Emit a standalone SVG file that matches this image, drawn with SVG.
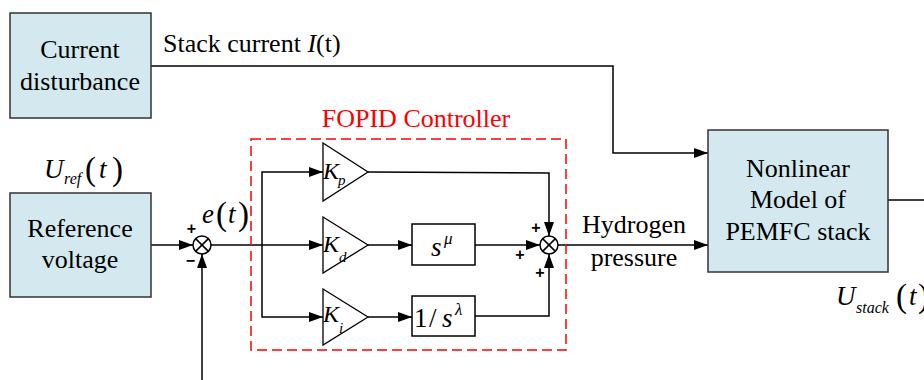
<svg xmlns="http://www.w3.org/2000/svg" width="924" height="380" viewBox="0 0 924 380">
<style>
.box{fill:#d3e9ef;stroke:#333;stroke-width:1.5}
.ln{fill:none;stroke:#000;stroke-width:1.5}
.tx{font-family:"Liberation Serif",serif;font-size:26px;fill:#000}
.it{font-family:"Liberation Serif",serif;font-style:italic;fill:#000}
.rm{font-family:"Liberation Serif",serif;fill:#000}
.sum{fill:#fff;stroke:#000;stroke-width:1.5}
.tri{fill:#fff;stroke:#000;stroke-width:1.3}
.blk{fill:#fff;stroke:#000;stroke-width:1.5}
.pm{font-family:"Liberation Sans",sans-serif;font-size:16px;font-weight:bold;fill:#000;text-anchor:middle}
</style>
<defs>
<marker id="ar" markerWidth="14" markerHeight="10" refX="14" refY="5" orient="auto" markerUnits="userSpaceOnUse">
<path d="M0,0 L14,5 L0,10 Z" fill="#000"/>
</marker>
</defs>
<rect width="924" height="380" fill="#fff"/>

<g id="connectors">
<polyline class="ln" points="151,66 613,66 613,153 708,153" marker-end="url(#ar)"/>
<line class="ln" x1="151" y1="245" x2="193" y2="245" marker-end="url(#ar)"/>
<line class="ln" x1="202" y1="380" x2="202" y2="254" marker-end="url(#ar)"/>
<line class="ln" x1="211" y1="245" x2="323" y2="245" marker-end="url(#ar)"/>
<polyline class="ln" points="262,245 262,172 323,172" marker-end="url(#ar)"/>
<polyline class="ln" points="262,245 262,317 323,317" marker-end="url(#ar)"/>
<line class="ln" x1="368" y1="245" x2="412" y2="245" marker-end="url(#ar)"/>
<line class="ln" x1="368" y1="317" x2="412" y2="317" marker-end="url(#ar)"/>
<polyline class="ln" points="368,172 549,173 549,236" marker-end="url(#ar)"/>
<line class="ln" x1="475" y1="245" x2="540" y2="245" marker-end="url(#ar)"/>
<polyline class="ln" points="475,316 549,316 549,254" marker-end="url(#ar)"/>
<line class="ln" x1="558" y1="245" x2="708" y2="245" marker-end="url(#ar)"/>
<line class="ln" x1="888" y1="200" x2="924" y2="200"/>
</g>

<g id="fopid">
<rect x="251" y="139" width="315" height="211" fill="none" stroke="#f00" stroke-width="1.5" stroke-dasharray="10,5"/>
<text x="416" y="127" text-anchor="middle" font-family="Liberation Serif, serif" font-size="26" fill="#f00">FOPID Controller</text>
</g>

<g id="current-disturbance">
<rect class="box" x="10" y="13" width="141" height="105"/>
<text class="tx" x="80" y="58" text-anchor="middle">Current</text>
<text class="tx" x="80" y="90" text-anchor="middle">disturbance</text>
</g>
<text class="tx" x="163" y="52" font-size="25">Stack current <tspan font-style="italic">I</tspan>(t)</text>

<g id="reference-voltage">
<rect class="box" x="10" y="193" width="141" height="104"/>
<text class="tx" x="80" y="237" text-anchor="middle">Reference</text>
<text class="tx" x="80" y="268" text-anchor="middle">voltage</text>
</g>
<g id="uref-label">
<text class="it" x="44" y="178" font-size="27">U</text>
<text class="it" x="64" y="184" font-size="16">ref</text>
<text class="rm" x="85" y="180" font-size="33">(</text>
<text class="it" x="99" y="178" font-size="27">t</text>
<text class="rm" x="112" y="180" font-size="33">)</text>
</g>

<g id="sum1">
<circle class="sum" cx="202" cy="245" r="9"/>
<path class="ln" d="M195.6,238.6 L208.4,251.4 M208.4,238.6 L195.6,251.4" stroke-width="1.2"/>
<text class="pm" x="191.5" y="234">+</text>
<text class="pm" x="190.5" y="266">−</text>
</g>
<g id="e-label">
<text class="it" x="202" y="223" font-size="27">e</text>
<text class="rm" x="216" y="225" font-size="33">(</text>
<text class="it" x="228" y="223" font-size="27">t</text>
<text class="rm" x="238" y="225" font-size="33">)</text>
</g>

<g id="kp">
<polygon class="tri" points="323,143 368,172 323,201"/>
<text class="it" x="323" y="179" font-size="24">K</text>
<text class="it" x="338" y="185" font-size="15">p</text>
</g>
<g id="kd">
<polygon class="tri" points="323,217 368,245 323,273"/>
<text class="it" x="323" y="252" font-size="24">K</text>
<text class="it" x="339" y="262" font-size="15">d</text>
</g>
<g id="ki">
<polygon class="tri" points="323,289 368,317 323,345"/>
<text class="it" x="323" y="322" font-size="24">K</text>
<text class="it" x="339" y="333" font-size="15">i</text>
</g>

<g id="s-mu">
<rect class="blk" x="412" y="224" width="63" height="41"/>
<text class="it" x="431" y="256" font-size="27">s</text>
<text class="it" x="444" y="244" font-size="17">μ</text>
</g>
<g id="s-lambda">
<rect class="blk" x="412" y="296" width="63" height="40"/>
<text class="rm" x="414" y="327" font-size="27">1</text>
<text class="rm" x="429" y="327" font-size="27">/</text>
<text class="it" x="442" y="327" font-size="27">s</text>
<text class="it" x="455" y="315" font-size="17">λ</text>
</g>

<g id="sum2">
<circle class="sum" cx="549" cy="245" r="9"/>
<path class="ln" d="M542.6,238.6 L555.4,251.4 M555.4,238.6 L542.6,251.4" stroke-width="1.2"/>
<text class="pm" x="536" y="233">+</text>
<text class="pm" x="520" y="260">+</text>
<text class="pm" x="540" y="278">+</text>
</g>

<text class="tx" x="634" y="233" text-anchor="middle">Hydrogen</text>
<text class="tx" x="634" y="266" text-anchor="middle">pressure</text>

<g id="pemfc">
<rect class="box" x="708" y="130" width="180" height="142"/>
<text class="tx" x="798" y="177" text-anchor="middle">Nonlinear</text>
<text class="tx" x="798" y="208" text-anchor="middle">Model of</text>
<text class="tx" x="798" y="240" text-anchor="middle">PEMFC stack</text>
</g>
<g id="ustack-label">
<text class="it" x="836" y="305" font-size="27">U</text>
<text class="it" x="856" y="313" font-size="16">stack</text>
<text class="rm" x="896" y="307" font-size="33">(</text>
<text class="it" x="909" y="305" font-size="27">t</text>
<text class="rm" x="918" y="307" font-size="33">)</text>
</g>
</svg>
